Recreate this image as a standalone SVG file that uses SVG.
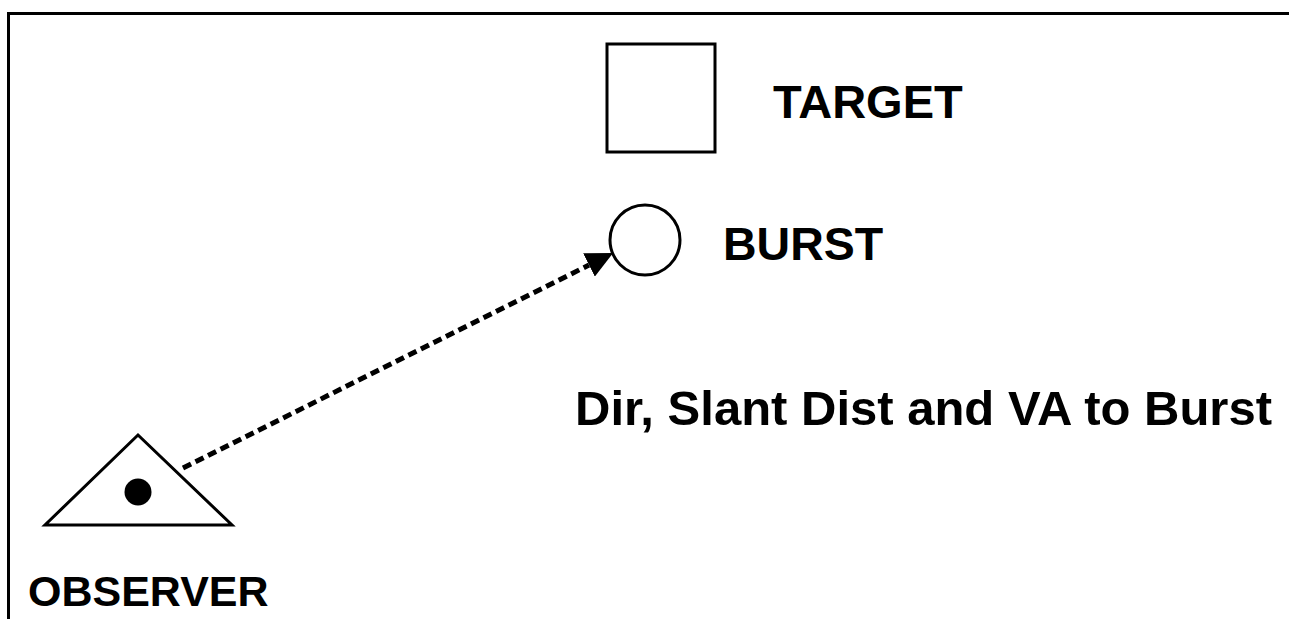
<svg xmlns="http://www.w3.org/2000/svg" width="1289" height="619" viewBox="0 0 1289 619">
<style>
.lbl{font-family:"Liberation Sans",Arial,sans-serif;font-weight:bold;fill:#000}
.shape{fill:#fff;stroke:#000;stroke-width:3}
</style>
<defs>
<marker id="ah" viewBox="0 0 27 26" refX="0" refY="13" markerWidth="27" markerHeight="26" markerUnits="userSpaceOnUse" orient="auto">
<path d="M0,0 L27,13 L0,26 z" fill="#000"/>
</marker>
</defs>
<rect width="1289" height="619" fill="#fff"/>
<g id="frame">
<path d="M8.5,619 L8.5,13.5 L1289,13.5" fill="none" stroke="#000" stroke-width="3"/>
</g>
<g id="target">
<rect class="shape" x="607" y="44" width="108" height="108"/>
<text class="lbl" x="773" y="118" font-size="47">TARGET</text>
</g>
<g id="burst">
<circle class="shape" cx="645" cy="240" r="35" stroke-width="2.5"/>
<text class="lbl" x="723" y="260" font-size="46.5">BURST</text>
</g>
<g id="observer">
<polygon class="shape" points="138,435 45,525 232,525" stroke-width="2.5"/>
<circle cx="138" cy="492" r="13.5" fill="#000"/>
<text class="lbl" x="28" y="606" font-size="43">OBSERVER</text>
</g>
<g id="connectors">
<line x1="183" y1="468" x2="589" y2="265" stroke="#000" stroke-width="5" stroke-dasharray="9,5" marker-end="url(#ah)"/>
</g>
<g id="caption">
<text class="lbl" x="575" y="425" font-size="49">Dir, Slant Dist and VA to Burst</text>
</g>
</svg>
